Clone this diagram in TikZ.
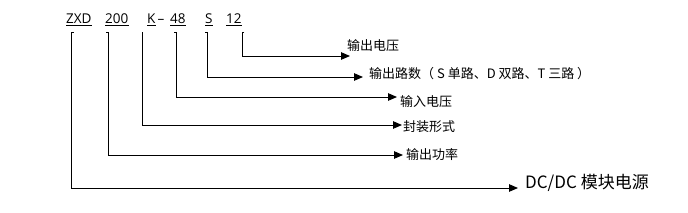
\documentclass[tikz,border=0pt]{standalone}
\usepackage{fontspec}
\setmainfont{Noto Sans CJK SC}
\newfontfamily\codefont{Open Sans}
\usetikzlibrary{arrows.meta}
\begin{document}
\begin{tikzpicture}[x=1pt,y=-1pt,
  conn/.style={line width=0.9pt,-{Triangle[length=9pt,width=7.5pt]}},
  code/.style={inner sep=0pt,anchor=base west,font=\codefont\fontsize{13.5}{14}\selectfont},
  lbl/.style={inner sep=0pt,anchor=west,font=\fontsize{13}{13}\selectfont},
  biglbl/.style={inner sep=0pt,anchor=west,font=\fontsize{17}{17}\selectfont},
  ul/.style={line width=0.8pt}]
\useasboundingbox[fill=white] (0,0) rectangle (688,212);
% code letters
\node[code] (zxd) at (66,23) {ZXD};
\node[code] (p200) at (105,23) {200};
\node[code] (pk) at (147,23) {K};
\node[code] (pdash) at (157.5,23) {–};
\node[code] (p48) at (170,23) {48};
\node[code] (ps) at (205,23) {S};
\node[code] (p12) at (226,23) {12};
% underlines
\foreach \n in {zxd,p200,pk,p48,ps,p12}
  \draw[ul] ([yshift=-2pt]\n.base west) -- ([yshift=-2pt]\n.base east);
% labels
\node[lbl] (l12) at (347,46) {输出电压};
\node[lbl] (ls) at (369,74) {输出路数（ S 单路、D 双路、T 三路 ）};
\node[lbl] (l48) at (400,102) {输入电压};
\node[lbl] (lk) at (403,127) {封装形式};
\node[lbl] (l200) at (406,155) {输出功率};
\node[biglbl] (lzxd) at (525,183) {DC/DC 模块电源};
% connector start points and tips
\coordinate (s12) at (244,32);
\coordinate (t12) at (350,56);
\coordinate (ss) at (205,32);
\coordinate (ts) at (363,77);
\coordinate (s48) at (174,32);
\coordinate (t48) at (397,97);
\coordinate (sk) at (142.7,32);
\coordinate (tk) at (402,125);
\coordinate (s200) at (106,32);
\coordinate (t200) at (403,155);
\coordinate (szxd) at (73.7,32);
\coordinate (tzxd) at (518,188);
% connectors
\draw[conn] (s12) -- ++(-2,0) |- (t12);
\draw[conn] (ss) -- ++(2,0) |- (ts);
\draw[conn] (s48) -- ++(2,0) |- (t48);
\draw[conn] (sk) |- (tk);
\draw[conn] (s200) -- ++(2,0) |- (t200);
\draw[conn] (szxd) -- ++(-2,0) |- (tzxd);
\end{tikzpicture}
\end{document}
